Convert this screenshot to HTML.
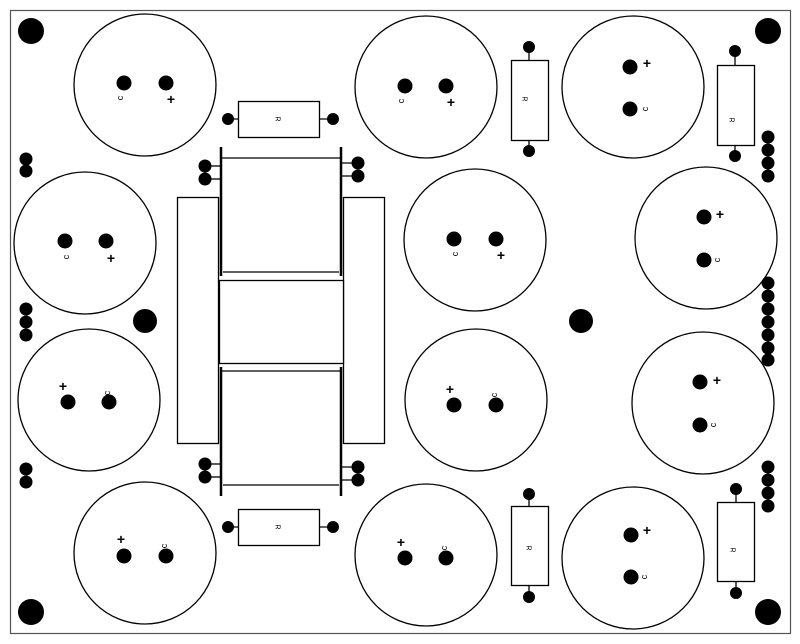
<!DOCTYPE html>
<html><head><meta charset="utf-8"><style>
html,body{margin:0;padding:0;background:#fff;}
svg{display:block;}
text{font-family:"Liberation Sans",sans-serif;fill:#000;}
</style></head><body>
<svg width="800" height="644" viewBox="0 0 800 644" xmlns="http://www.w3.org/2000/svg">
<rect x="10.5" y="10.5" width="780" height="623" fill="#fff" stroke="#555" stroke-width="1.2"/>
<g fill="#000">
<circle cx="31" cy="31" r="13"/><circle cx="768" cy="31" r="13"/><circle cx="31" cy="612" r="13"/><circle cx="768" cy="612" r="13"/>
<circle cx="145" cy="321" r="12"/><circle cx="581" cy="321" r="12"/>
</g>
<g fill="none" stroke="#000" stroke-width="1.3">
<circle cx="145" cy="85" r="71"/>
<circle cx="426" cy="87" r="71"/>
<circle cx="633" cy="87" r="71"/>
<circle cx="85" cy="243" r="71"/>
<circle cx="475" cy="240" r="71"/>
<circle cx="706" cy="238" r="71"/>
<circle cx="89" cy="400" r="71"/>
<circle cx="476" cy="400" r="71"/>
<circle cx="703" cy="403" r="71"/>
<circle cx="145" cy="553" r="71"/>
<circle cx="426" cy="555" r="71"/>
<circle cx="633" cy="558" r="71"/>
</g>
<g fill="#000">
<circle cx="124" cy="83" r="7.5"/><circle cx="166" cy="83" r="7.5"/>
<circle cx="405" cy="86" r="7.5"/><circle cx="446" cy="86" r="7.5"/>
<circle cx="630" cy="67" r="7.5"/><circle cx="630" cy="109" r="7.5"/>
<circle cx="65" cy="241" r="7.5"/><circle cx="106" cy="241" r="7.5"/>
<circle cx="454" cy="239" r="7.5"/><circle cx="496" cy="239" r="7.5"/>
<circle cx="704" cy="217" r="7.5"/><circle cx="704" cy="260" r="7.5"/>
<circle cx="68" cy="402" r="7.5"/><circle cx="109" cy="402" r="7.5"/>
<circle cx="454" cy="405" r="7.5"/><circle cx="496" cy="405" r="7.5"/>
<circle cx="700" cy="382" r="7.5"/><circle cx="700" cy="425" r="7.5"/>
<circle cx="124" cy="556" r="7.5"/><circle cx="166" cy="556" r="7.5"/>
<circle cx="405" cy="558" r="7.5"/><circle cx="446" cy="558" r="7.5"/>
<circle cx="631" cy="535" r="7.5"/><circle cx="631" cy="577" r="7.5"/>
</g>
<g style="font-size:14px;font-weight:bold" text-anchor="middle">
<text x="171" y="104">+</text>
<text x="451" y="107">+</text>
<text x="647" y="68">+</text>
<text x="111" y="263">+</text>
<text x="501" y="260">+</text>
<text x="720" y="219">+</text>
<text x="63" y="391">+</text>
<text x="450" y="394">+</text>
<text x="717" y="385">+</text>
<text x="121" y="544">+</text>
<text x="401" y="547">+</text>
<text x="647" y="535">+</text>
</g>
<g style="font-size:9px" text-anchor="middle">
<text transform="translate(123,98) rotate(-90)">c</text>
<text transform="translate(404,101) rotate(-90)">c</text>
<text transform="translate(648,109) rotate(-90)">c</text>
<text transform="translate(69,257) rotate(-90)">c</text>
<text transform="translate(458,254) rotate(-90)">c</text>
<text transform="translate(720,260) rotate(-90)">c</text>
<text transform="translate(110,393) rotate(-90)">c</text>
<text transform="translate(497,395) rotate(-90)">c</text>
<text transform="translate(716,425) rotate(-90)">c</text>
<text transform="translate(167,546) rotate(-90)">c</text>
<text transform="translate(447,548) rotate(-90)">c</text>
<text transform="translate(647,577) rotate(-90)">c</text>
</g>
<g stroke="#000" stroke-width="1.3">
<line x1="228" y1="119" x2="333" y2="119"/>
<line x1="228" y1="527" x2="333" y2="527"/>
<line x1="529" y1="47" x2="529" y2="151"/>
<line x1="735" y1="51" x2="735" y2="156"/>
<line x1="529" y1="494" x2="529" y2="597"/>
<line x1="736" y1="489" x2="736" y2="593"/>
</g>
<g fill="#fff" stroke="#000" stroke-width="1.3">
<rect x="238.5" y="101.5" width="81" height="36"/>
<rect x="238.5" y="509.5" width="81" height="36"/>
<rect x="511.5" y="60.5" width="37" height="80"/>
<rect x="717.5" y="65.5" width="37" height="80"/>
<rect x="511.5" y="506.5" width="37" height="79"/>
<rect x="717.5" y="502.5" width="37" height="79"/>
</g>
<g fill="#000">
<circle cx="228" cy="119" r="6"/><circle cx="333" cy="119" r="6"/>
<circle cx="228" cy="527" r="6"/><circle cx="333" cy="527" r="6"/>
<circle cx="529" cy="47" r="6"/><circle cx="529" cy="151" r="6"/>
<circle cx="735" cy="51" r="6"/><circle cx="735" cy="156" r="6"/>
<circle cx="529" cy="494" r="6"/><circle cx="529" cy="597" r="6"/>
<circle cx="736" cy="489" r="6"/><circle cx="736" cy="593" r="6"/>
</g>
<g style="font-size:7px" text-anchor="middle">
<text transform="translate(278,119) rotate(90)" dy="2.5">R</text>
<text transform="translate(278,527) rotate(90)" dy="2.5">R</text>
<text transform="translate(525,99) rotate(90)" dy="2.5">R</text>
<text transform="translate(732,120) rotate(90)" dy="2.5">R</text>
<text transform="translate(529,548) rotate(90)" dy="2.5">R</text>
<text transform="translate(733,550) rotate(90)" dy="2.5">R</text>
</g>
<g fill="#fff" stroke="#000" stroke-width="1.3">
<rect x="177.5" y="197.5" width="41" height="246"/>
<rect x="343.5" y="197.5" width="41" height="246"/>
<rect x="219.5" y="280.5" width="124" height="83"/>
</g>
<g stroke="#000" stroke-width="1.3">
<line x1="221" y1="158" x2="341" y2="158"/>
<line x1="223" y1="272" x2="339" y2="272"/>
<line x1="221" y1="371" x2="341" y2="371"/>
<line x1="223" y1="485" x2="339" y2="485"/>
<line x1="205" y1="166" x2="221" y2="166"/><line x1="205" y1="179" x2="221" y2="179"/>
<line x1="341" y1="163" x2="358" y2="163"/><line x1="341" y1="176" x2="358" y2="176"/>
<line x1="205" y1="464" x2="221" y2="464"/><line x1="205" y1="477" x2="221" y2="477"/>
<line x1="341" y1="467" x2="358" y2="467"/><line x1="341" y1="480" x2="358" y2="480"/>
</g>
<g stroke="#000" stroke-width="2.5">
<line x1="221" y1="147" x2="221" y2="276"/>
<line x1="341" y1="147" x2="341" y2="276"/>
<line x1="221" y1="367" x2="221" y2="496"/>
<line x1="341" y1="367" x2="341" y2="496"/>
</g>
<g fill="#000">
<circle cx="205" cy="166" r="6.5"/><circle cx="205" cy="179" r="6.5"/>
<circle cx="358" cy="163" r="6.5"/><circle cx="358" cy="176" r="6.5"/>
<circle cx="205" cy="464" r="6.5"/><circle cx="205" cy="477" r="6.5"/>
<circle cx="358" cy="467" r="6.5"/><circle cx="358" cy="480" r="6.5"/>
<circle cx="26" cy="159" r="6.5"/><circle cx="26" cy="171" r="6.5"/>
<circle cx="26" cy="309" r="6.5"/><circle cx="26" cy="322" r="6.5"/><circle cx="26" cy="335" r="6.5"/>
<circle cx="26" cy="469" r="6.5"/><circle cx="26" cy="482" r="6.5"/>
<circle cx="768" cy="137" r="6.5"/><circle cx="768" cy="150" r="6.5"/><circle cx="768" cy="163" r="6.5"/><circle cx="768" cy="176" r="6.5"/>
<circle cx="768" cy="283" r="6.5"/><circle cx="768" cy="296" r="6.5"/><circle cx="768" cy="309" r="6.5"/><circle cx="768" cy="322" r="6.5"/><circle cx="768" cy="335" r="6.5"/><circle cx="768" cy="348" r="6.5"/><circle cx="768" cy="360" r="6.5"/>
<circle cx="768" cy="467" r="6.5"/><circle cx="768" cy="480" r="6.5"/><circle cx="768" cy="493" r="6.5"/><circle cx="768" cy="506" r="6.5"/>
</g>
</svg>
</body></html>
